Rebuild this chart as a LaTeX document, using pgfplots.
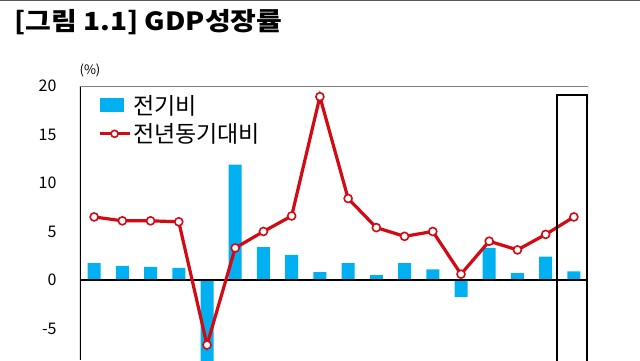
\documentclass[border=0pt]{standalone}
\usepackage{fontspec}
\setmainfont{Noto Sans CJK KR}
\usepackage{pgfplots}
\pgfplotsset{compat=1.18}
\definecolor{barblue}{RGB}{0,176,240}
\definecolor{linered}{RGB}{210,10,20}
\definecolor{topline}{RGB}{80,90,95}
\pgfplotstableread{
x bar yoy
0 1.75 6.5
1 1.45 6.1
2 1.35 6.1
3 1.25 6.0
4 -9.0 -6.7
5 11.9 3.3
6 3.4 5.0
7 2.6 6.6
8 0.8 18.9
9 1.75 8.4
10 0.5 5.4
11 1.75 4.5
12 1.1 5.0
13 -1.75 0.6
14 3.3 4.0
15 0.7 3.1
16 2.4 4.7
17 0.9 6.5
}\gdpdata
\begin{document}
\begin{tikzpicture}[x=1pt,y=1pt]
\path[use as bounding box] (0pt,0pt) rectangle (640pt,360pt);
\fill[white] (0pt,0pt) rectangle (640pt,360pt);
\draw[line width=1.5pt, topline] (0pt,359.4pt) -- (640pt,359.4pt);
\node[anchor=west, inner sep=0pt, font=\fontsize{25}{28}\selectfont\bfseries] at (14pt,338pt) {\scalebox{1.12}[1]{[그림 1.1] GDP성장률}};
\node[anchor=center, inner sep=0pt, font=\fontsize{13}{15}\selectfont] at (90pt,290pt) {(\%)};
\begin{axis}[at={(80pt,0pt)}, anchor=south west, scale only axis,
  width=508pt, height=274pt,
  xmin=-0.5, xmax=17.5, ymin=-8.25, ymax=20,
  axis line style={draw=none},
  xtick=\empty, ytick={-5,0,5,10,15,20},
  major tick length=0pt,
  yticklabel style={font=\fontsize{16}{18}\selectfont, xshift=-20pt},
  /pgf/number format/assume math mode=true,
  legend style={draw=none, fill=none, at={(axis description cs:0.035,0.975)}, anchor=north west,
    font=\fontsize{23}{25}\selectfont, row sep=4pt, inner sep=0pt, cells={anchor=west},
    /tikz/every even column/.append style={column sep=5pt}},
  ]
\addplot[ybar, bar width=13pt, bar shift=0pt, fill=barblue, draw=none,
  legend image code/.code={\fill[barblue] (0pt,-7pt) rectangle (24pt,7pt);}]
  table[x=x, y=bar] {\gdpdata};
\addlegendentry{전기비}
\draw[black, line width=1.2pt] (axis cs:-0.5,0) -- (axis cs:17.5,0);
\draw[black, line width=1.5pt] (rel axis cs:0,0) -- (rel axis cs:0,1);
\draw[gray, line width=1pt] (rel axis cs:0,1) -- (rel axis cs:1,1) -- (axis cs:17.5,18);
\addplot[linered, line width=3.2pt, mark=*, mark size=4pt,
  mark options={fill=white, draw=linered, line width=1.6pt},
  legend image code/.code={\draw[linered, line width=3.2pt] (0pt,0pt) -- (30pt,0pt); \draw[linered, fill=white, line width=1.6pt] (15pt,0pt) circle (3.5pt);}]
  table[x=x, y=yoy] {\gdpdata};
\addlegendentry{전년동기대비}
\draw[black, line width=2pt] (axis cs:16.4,-9) -- (axis cs:16.4,19.1) -- (axis cs:17.45,19.1) -- (axis cs:17.45,-9);
\end{axis}
\end{tikzpicture}
\end{document}
